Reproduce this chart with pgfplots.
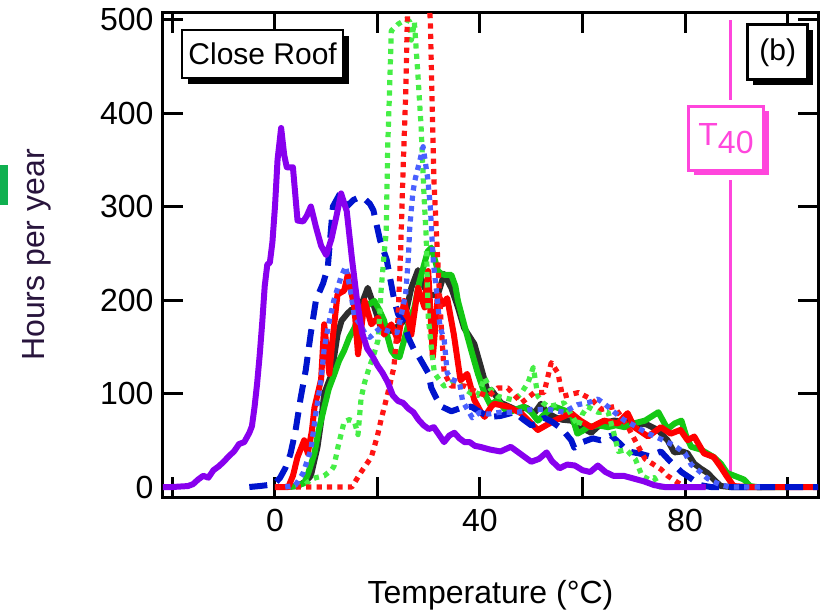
\documentclass[border=0pt]{standalone}
\usepackage{fontspec}
\setmainfont{Liberation Sans}
\usepackage{pgfplots}
\pgfplotsset{compat=1.18}
\usetikzlibrary{shadows}

\definecolor{cviolet}{RGB}{136,0,238}
\definecolor{cbdash}{RGB}{0,20,205}
\definecolor{cgdot}{RGB}{70,238,70}
\definecolor{crdot}{RGB}{255,20,20}
\definecolor{cbdot}{RGB}{74,96,255}
\definecolor{cblack}{RGB}{45,45,45}
\definecolor{cgreen}{RGB}{20,200,20}
\definecolor{cred}{RGB}{255,0,0}
\definecolor{cpink}{RGB}{255,70,220}
\definecolor{ylab}{RGB}{40,20,60}
\definecolor{cart}{RGB}{16,176,80}

\begin{document}
\begin{tikzpicture}
\begin{axis}[name=a, scale only axis, width=327.5pt, height=242pt,
  xmin=-21.85, xmax=105.95, ymin=-10.7, ymax=507,
  xtick={-20,0,...,100}, xticklabels={,0,,40,,80,},
  ytick={0,100,...,500},
  tick align=inside, major tick length=10pt,
  tick style={black, line width=1.5pt},
  axis line style={line width=1.5pt},
  ticklabel style={font=\fontsize{16}{19}\selectfont},
  /pgf/number format/assume math mode=true,
  xticklabel style={yshift=-2.7pt},
  yticklabel style={xshift=-1.2pt},
  xlabel={Temperature (°C)}, ylabel={Hours per year},
  label style={font=\fontsize{16}{19}\selectfont},
  xlabel style={at={(axis description cs:0.5,0)}, anchor=base, yshift=-53pt},
  ylabel style={at={(axis description cs:-0.1924,0.5)}, anchor=center, text=ylab},
  clip mode=individual,
  every axis plot/.append style={line join=round},
  dotline/.style={line width=2.6pt, dash pattern=on 2.6pt off 2.6pt},
]
% T40 marker line
\addplot[cpink, line width=1.6pt] coordinates {(88.8,0) (88.8,328)};
\addplot[cpink, line width=1.6pt] coordinates {(88.8,414) (88.8,500)};

% black solid
\addplot[cblack, line width=3pt] coordinates {
(2,0) (4.4,1) (6,6) (7,12) (8.3,43) (9,70) (9.6,100) (11,120) (12.2,163) (13,178)
(14.2,186) (15,190) (16.2,188) (17.2,200) (18.1,213) (19.4,192) (20.7,170) (21.5,168)
(22.7,167) (24,172) (25.2,178) (26.6,213) (27.9,232) (29.2,213) (30.5,205) (31.8,206)
(33,228) (34.4,213) (35.7,192) (36.9,170) (38.9,153) (40.2,128) (41.6,100) (42.2,104)
(44.1,90) (47.3,82) (49,85) (50.6,79) (51.9,89) (53,80) (54.5,75) (56,72) (57.8,71)
(59.6,64) (61.7,58) (63.7,68) (66.2,71) (68,70) (70.3,68) (72.5,67) (74.7,61) (76.6,50)
(77.9,37) (79.5,38) (80.5,36) (81.8,25) (83,20) (84.4,15) (86,6) (87,1) (89,0) (95,0)};

% green solid
\addplot[cgreen, line width=3pt] coordinates {
(3,0) (4.5,2) (5.7,4) (6.5,15) (7.7,36) (8.5,60) (9.6,85) (10.5,105) (11.6,121) (12.5,135)
(13.5,146) (14.5,160) (15.5,170) (16.5,185) (17.5,192) (18.5,196) (19.4,199) (20.3,190)
(21.3,178) (22,160) (22.7,146) (23.5,140) (24.3,139) (25.2,157) (26.2,178) (27.2,192)
(28.2,220) (29.1,238) (29.8,252) (30.5,256) (31.1,245) (31.8,231) (32.5,228) (33,227)
(34.4,227) (35.2,215) (35.7,199) (36.9,174) (38.3,146) (39.6,121) (40.9,100) (42,88)
(43.5,93) (45.4,79) (47,83) (48.6,86) (50,80) (51.3,71) (53,80) (54.5,86) (56,83)
(57.8,79) (59,57) (60,60) (61,64) (63,66) (65,64) (66.5,66) (68.2,64) (70,68) (72.2,71)
(74.8,80) (76.6,62) (78,68) (79.3,71) (80.2,55) (81.2,43) (83.1,40) (85.6,32) (87,25)
(88.2,15) (90.1,11) (91.5,8) (92.7,1) (94,0) (100,0)};

% red solid
\addplot[cred, line width=3pt] coordinates {
(0,0) (2.6,0) (3.5,12) (4.4,32) (5.7,50) (6.4,36) (7.2,60) (7.7,85) (9,115) (9.6,174)
(10.6,121) (11.2,156) (12.2,206) (13.5,210) (14.2,227) (15.5,192) (16.2,142) (17.5,199)
(18.8,174) (20.1,181) (21.3,163) (22.7,174) (24,157) (25.2,199) (26.6,163) (27.9,213)
(29.2,192) (29.9,231) (30.8,139) (31.8,206) (32.7,195) (33.6,202) (34.9,163) (36.2,114)
(37.5,121) (38.9,93) (40.2,80) (40.9,75) (42.2,86) (42.8,89) (45.4,86) (48,79) (51.3,61)
(54.5,71) (57.8,79) (59.6,71) (61.7,64) (64.2,71) (66.9,68) (68.8,79) (70.1,64) (72.8,54)
(75.3,64) (77.2,57) (79.1,61) (80.5,50) (81.8,54) (83.7,36) (85.6,32) (86.9,22) (88.2,11)
(89.5,1) (92,0) (106,0)};

% blue dashed
\addplot[cbdash, line width=3pt, dash pattern=on 9pt off 5pt] coordinates {
(-5,0) (-3,1) (-1.5,2) (0,4) (1,10) (2,20) (3,35) (4,60) (5,95) (6,125) (7,165) (8,200)
(9.4,218) (10.3,235) (11.3,300) (12.7,314) (14,300) (15.3,307) (16.5,310) (17.5,308)
(18.5,303) (19.2,296) (20.5,264) (21.8,243) (22.4,225) (23.3,199) (24,185) (25.2,175)
(26,160) (27.2,146) (28,140) (29.9,122) (30.5,106) (31.5,95) (32.5,86) (34.4,81) (36,84)
(38.3,86) (40,80) (42,75) (44,76) (46.7,80) (48.5,72) (50,66) (51.3,68) (52.5,74) (54,70)
(56,62) (57.8,50) (58.4,42) (60,48) (62,52) (63.5,50) (65.6,55) (67,48) (68.9,38) (71,36)
(73,33) (75.3,38) (77,28) (79.3,16) (81.2,9) (83,2) (85,0) (106,0)};

% green dotted
\addplot[cgdot, dotline] coordinates {
(4,0) (6,3) (7,8) (8,10) (9.6,12) (11,18) (11.5,22) (12.3,43) (13.5,70) (14.5,72) (15.5,70)
(16.2,56) (16.8,95) (17.5,112) (18.4,128) (19.2,140) (20.1,157) (20.5,190) (20.7,210)
(21.3,250) (21.7,272) (22,365) (22.3,415) (22.7,488) (24,495) (25.5,500) (26.3,498)
(26.6,478) (27.2,497) (27.9,440) (28.5,386) (29.1,309) (29.5,268) (29.9,182) (30.5,150)
(31.1,122) (32,115) (33,108) (34.4,112) (35.7,112) (37,105) (38.3,100) (39.6,98) (40.9,117)
(42,105) (43.5,97) (45,95) (46.7,93) (48,100) (49.4,112) (50.4,128) (51.3,97) (52.3,90)
(53.3,86) (55,88) (56.4,90) (57.5,80) (59.2,65) (60,78) (61,86) (63,80) (65,80) (66,60)
(67,38) (68.5,40) (70.3,30) (71.6,12) (73,8) (74,10) (75,0) (80,0)};

% red dotted
\addplot[crdot, dotline] coordinates {
(0,0) (5,0) (10,0) (15,0) (16.8,16) (18.8,32) (20,55) (20.7,72) (22,100) (23.2,128)
(24,180) (24.5,250) (25,340) (25.5,420) (25.8,495) (26.2,560) (29.5,560) (30.3,500)
(31,330) (31.6,260) (32.2,195) (33,122) (34.4,108) (37,108) (39.6,101) (41.6,97)
(43.5,106) (45.4,106) (48.1,90) (50.6,101) (52.5,101) (53.9,133) (55.2,122) (56.1,97)
(59.2,101) (61.7,94) (63.7,83) (66.2,86) (68.8,65) (71.5,37) (72.2,30) (75.3,19)
(76.6,12) (78.5,5) (80,0) (84,0)};

% blue dotted
\addplot[cbdot, dotline] coordinates {
(2,0) (4,2) (5.5,15) (7,40) (8,80) (9,115) (9.6,148) (10.5,175) (11.5,200) (12.9,225)
(13.8,236) (14.8,208) (15.5,182) (16.5,175) (17.5,165) (18.5,160) (19.5,165) (20.5,170)
(21.5,168) (22.5,166) (23.8,165) (24.5,180) (25.5,207) (26,243) (26.3,278) (26.9,315)
(27.3,328) (28.3,350) (28.9,364) (29.4,345) (29.8,330) (30.3,300) (30.9,240) (31.5,210)
(32.2,171) (33,158) (33.6,122) (34.5,115) (36,112) (36.6,92) (38.5,74) (40,80) (41.6,78)
(44,80) (47.3,80) (50,83) (53.3,83) (56.4,80) (59,88) (61,90) (63,94) (64.5,88) (66.2,80)
(68,72) (70,66) (72.5,58) (75.4,51) (78,44) (80,36) (81.2,24) (83,16) (84.4,9) (87,2)
(89,0) (95,0)};

% violet solid
\addplot[cviolet, line width=3pt] coordinates {
(-22,0) (-20,0) (-17,1) (-16,3) (-15,8) (-14,12) (-13,10) (-12,18) (-11,22) (-10,27)
(-9,33) (-8,38) (-7,46) (-6,48) (-5,58) (-4.5,65) (-4,85) (-3.5,110) (-3,140) (-2.5,175)
(-2,215) (-1.5,238) (-1,240) (-0.5,262) (0,300) (0.5,350) (1.2,384) (1.8,355) (2.3,342)
(3.5,342) (4.4,285) (5.5,284) (6.2,290) (7,300) (8,278) (9,258) (10,248) (11,265) (12,290)
(12.9,314) (14,295) (15,245) (16,200) (17,165) (18,148) (19,140) (20,130) (21,122)
(22,112) (23,98) (24,92) (25,90) (26,84) (27,80) (28,72) (29,66) (30,62) (31,64) (32,56)
(33,48) (34,55) (35,58) (36,52) (37,48) (38,48) (39,44) (40,43) (42,40) (44,38) (46,43)
(48,35) (50,27) (51.5,30) (53,37) (54,28) (55.5,20) (57,24) (58.5,23) (60,18) (61.5,16)
(63,23) (64.5,16) (66,12) (68,12) (70,9) (72,6) (74,2) (76,0) (80,0) (84,0)};

\node[draw=black, fill=white, line width=1.3pt, minimum width=80.5pt, minimum height=24pt,
  inner sep=0pt, font=\fontsize{15}{18}\selectfont,
  drop shadow={shadow xshift=3pt, shadow yshift=-3pt, opacity=1, fill=black}]
  at (axis cs:-2.4,463) {Close Roof};
\node[draw=black, fill=white, line width=1.3pt, minimum width=30pt, minimum height=27.5pt,
  inner sep=0pt, font=\fontsize{15}{18}\selectfont,
  drop shadow={shadow xshift=2.5pt, shadow yshift=-2.5pt, opacity=1, fill=black}]
  at (axis cs:98.1,465) {(b)};
\node[draw=cpink, text=cpink, fill=white, line width=1.3pt, minimum width=37.5pt,
  minimum height=32pt, inner sep=0pt, font=\fontsize{16}{19}\selectfont,
  drop shadow={shadow xshift=2.5pt, shadow yshift=-2.5pt, opacity=1, fill=cpink}]
  at (axis cs:88,373) {T\raisebox{-4pt}{40}};
\end{axis}
\fill[cart] ([xshift=-81.5pt,yshift=146pt]a.south west) rectangle ++(4pt,20pt);
\pgfresetboundingbox
\path ([xshift=-81.5pt,yshift=-56.5pt]a.south west) rectangle ([xshift=2pt,yshift=6.5pt]a.north east);
\end{tikzpicture}
\end{document}
